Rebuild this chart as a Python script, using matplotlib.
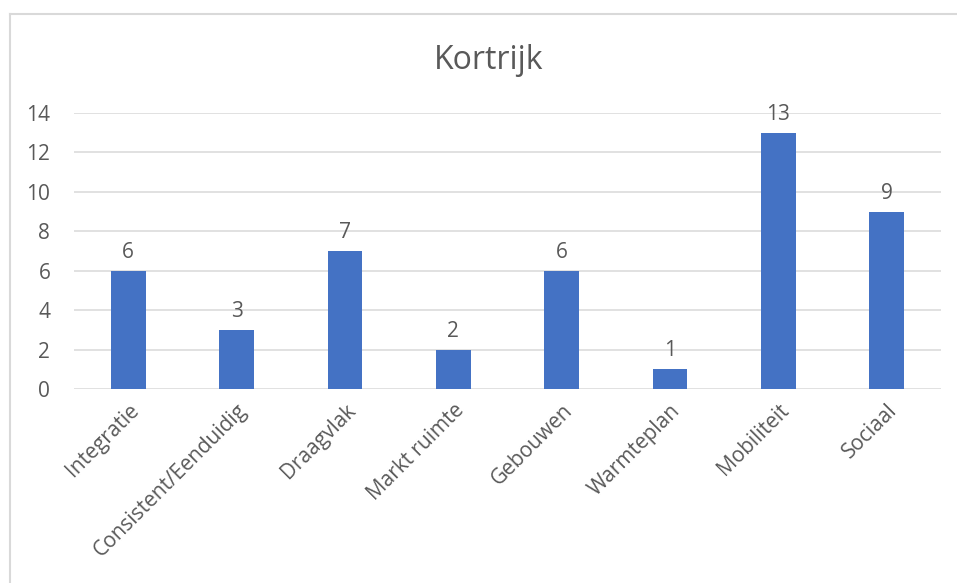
import matplotlib.pyplot as plt
from matplotlib.lines import Line2D

categories = ['Integratie', 'Consistent/Eenduidig', 'Draagvlak', 'Markt ruimte',
              'Gebouwen', 'Warmteplan', 'Mobiliteit', 'Sociaal']
values = [6, 3, 7, 2, 6, 1, 13, 9]
yticks = [0, 2, 4, 6, 8, 10, 12, 14]

text_color = '#595959'
bar_color = '#4472C4'
grid_color = '#D9D9D9'

plt.rcParams['font.family'] = ['Open Sans', 'DejaVu Sans']

fig = plt.figure(figsize=(9.57, 5.83), dpi=100)
ax = fig.add_axes([0.0773, 0.3328, 0.906, 0.4734])

x = range(len(categories))
bars = ax.bar(x, values, width=0.32, color=bar_color, zorder=3)
for b, v in zip(bars, values):
    ax.text(b.get_x() + b.get_width() / 2, v + 0.4, str(v), ha='center', va='bottom',
            fontsize=15, color=text_color)

ax.set_xlim(-0.5, len(categories) - 0.5)
ax.set_ylim(0, 14)
ax.set_yticks(yticks)
ax.set_yticklabels([str(t) for t in yticks], fontsize=15, color=text_color)
ax.set_xticks(list(x))
ax.set_xticklabels(categories, rotation=45, ha='right', rotation_mode='anchor',
                   fontsize=15, color=text_color)
ax.tick_params(axis='both', length=0)
ax.tick_params(axis='y', pad=17)
ax.tick_params(axis='x', pad=8)
ax.yaxis.grid(True, color=grid_color, linewidth=1.1, zorder=0)
for s in ax.spines.values():
    s.set_visible(False)

fig.text(0.511, 0.882, 'Kortrijk', ha='center', va='baseline', fontsize=23, color=text_color)

# chart frame (cut off at right and bottom)
fig.add_artist(Line2D([10 / 957, 1.0], [1 - 14 / 583] * 2, color=grid_color, linewidth=1.5))
fig.add_artist(Line2D([10 / 957] * 2, [0.0, 1 - 14 / 583], color=grid_color, linewidth=1.5))

fig.savefig('out.png', dpi=100)
